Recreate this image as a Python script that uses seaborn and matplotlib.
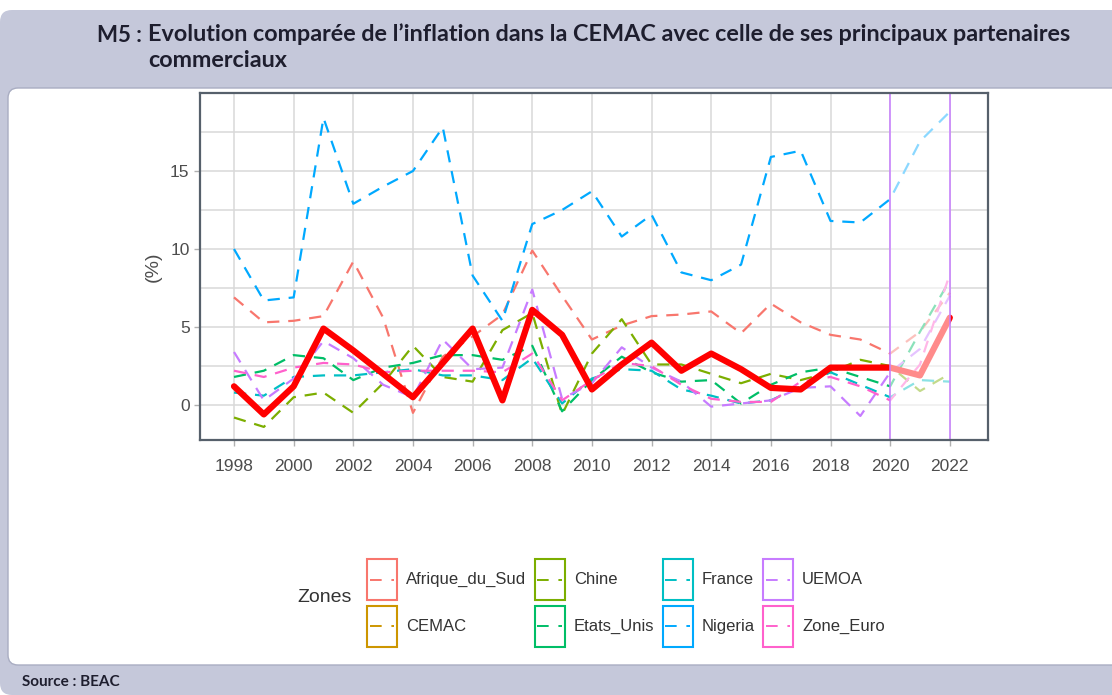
import matplotlib
matplotlib.use('Agg')
import matplotlib.pyplot as plt
import seaborn as sns
import pandas as pd
from matplotlib.patches import FancyBboxPatch, Rectangle
from matplotlib.lines import Line2D
from matplotlib.legend_handler import HandlerBase
from matplotlib.ticker import MultipleLocator

# donnees (inflation en %)
annees = list(range(1998, 2023))
zones = ['Afrique_du_Sud', 'CEMAC', 'Chine', 'Etats_Unis', 'France', 'Nigeria', 'UEMOA', 'Zone_Euro']
couleurs = ['#F8766D', '#CD9600', '#7CAE00', '#00BE67', '#00BFC4', '#00A9FF', '#C77CFF', '#FF61CC']

afrique_du_sud = [6.9, 5.3, 5.4, 5.7, 9.2, 5.6, -0.5, 3.1, 4.4, 5.8, 9.9, 7.0, 4.2, 5.1, 5.7, 5.8, 6.0, 4.6, 6.5, 5.3, 4.5, 4.2, 3.3, 4.7, 7.2]
cemac = [1.2, -0.6, 1.2, 4.9, 3.5, 2.0, 0.5, 2.7, 4.9, 0.3, 6.1, 4.5, 1.0, 2.6, 4.0, 2.2, 3.3, 2.3, 1.1, 1.0, 2.4, 2.4, 2.4, 1.9, 5.6]
chine = [-0.8, -1.4, 0.5, 0.8, -0.5, 1.4, 3.8, 1.8, 1.5, 4.8, 5.9, -0.6, 3.3, 5.5, 2.6, 2.6, 2.0, 1.4, 2.0, 1.6, 2.1, 2.9, 2.5, 0.9, 2.0]
etats_unis = [1.8, 2.2, 3.2, 3.0, 1.6, 2.4, 2.7, 3.2, 3.2, 2.9, 3.8, -0.4, 1.6, 3.1, 2.1, 1.5, 1.6, 0.1, 1.3, 2.1, 2.4, 1.8, 1.2, 4.7, 8.0]
france = [0.8, 0.6, 1.8, 1.9, 1.9, 2.1, 2.3, 1.9, 1.9, 1.6, 3.0, 0.1, 1.7, 2.3, 2.2, 1.0, 0.6, 0.1, 0.3, 1.2, 2.1, 1.3, 0.5, 1.6, 1.5]
nigeria = [10.0, 6.7, 6.9, 18.4, 12.9, 14.0, 15.0, 17.8, 8.3, 5.4, 11.6, 12.5, 13.7, 10.8, 12.2, 8.5, 8.0, 9.0, 15.9, 16.3, 11.8, 11.7, 13.2, 16.9, 18.8]
uemoa = [3.4, 0.3, 1.7, 4.1, 3.0, 1.3, 0.5, 4.2, 2.3, 2.4, 7.4, 0.4, 1.4, 3.7, 2.4, 1.5, -0.1, 0.1, 0.3, 1.1, 1.2, -0.7, 2.1, 3.6, 7.0]
zone_euro = [2.2, 1.8, 2.4, 2.7, 2.6, 2.1, 2.2, 2.2, 2.2, 2.1, 3.3, 0.3, 1.6, 2.7, 2.5, 1.3, 0.4, 0.2, 0.2, 1.5, 1.8, 1.2, 0.3, 2.6, 8.4]

series = [afrique_du_sud, cemac, chine, etats_unis, france, nigeria, uemoa, zone_euro]
df = pd.concat([pd.DataFrame({'annee': annees, 'valeur': v, 'zone': z}) for z, v in zip(zones, series)])

sns.set_theme(style='whitegrid')
plt.rcParams['font.family'] = ['Liberation Sans', 'DejaVu Sans']

fig = plt.figure(figsize=(11.12, 6.95), dpi=100)
fig.patch.set_facecolor('white')

# cadre du document (derriere les axes)
fig.patches.append(FancyBboxPatch((0.0, 0.0), 11.6, 6.85, boxstyle='round,pad=0,rounding_size=0.12',
                                  transform=fig.dpi_scale_trans, facecolor='#C5C8DA', edgecolor='none', zorder=-2))
fig.patches.append(FancyBboxPatch((0.08, 0.30), 11.6, 5.77, boxstyle='round,pad=0,rounding_size=0.1',
                                  transform=fig.dpi_scale_trans, facecolor='white', edgecolor='#A9ADC2', lw=1, zorder=-1))

fig.text(97 / 1112, 1 - 35 / 695, 'M5 :', family='Lato', weight='bold', fontsize=16, color='#1E1E2E', va='center')
fig.text(148 / 1112, 1 - 47.5 / 695,
         "Evolution comparée de l\u2019inflation dans la CEMAC avec celle de ses principaux partenaires\ncommerciaux",
         family='Lato', weight='bold', fontsize=16.8, color='#1E1E2E', va='center', linespacing=1.3)
fig.text(22 / 1112, 1 - 682 / 695, 'Source : BEAC', family='Lato', weight='bold', fontsize=11, color='#1E1E2E', va='center')

ax = fig.add_axes([200 / 1112, 1 - 440 / 695, 788 / 1112, 347 / 695])
sns.lineplot(data=df, x='annee', y='valeur', hue='zone', hue_order=zones, palette=couleurs,
             style='zone', style_order=zones, dashes={z: (5.5, 4) for z in zones},
             linewidth=1.6, legend=False, ax=ax)
sns.lineplot(data=df[df['zone'] == 'CEMAC'], x='annee', y='valeur', color='#FF0000', linewidth=4.5, ax=ax)

# periode de projection
ax.axvspan(2020, 2022, facecolor='white', alpha=0.55, lw=0, zorder=2.2)
ax.axvline(2020, color='#C77CFF', lw=1.1, zorder=2.3)
ax.axvline(2022, color='#C77CFF', lw=1.1, zorder=2.3)

ax.set_xlim(1996.86, 2023.28)
ax.set_ylim(-2.24, 20.0)
ax.set_xticks(range(1998, 2023, 2))
ax.set_yticks([0, 5, 10, 15])
ax.yaxis.set_minor_locator(MultipleLocator(2.5))
ax.grid(which='both', color='#D9D9D9', lw=1.1)
ax.set_facecolor('white')
for s in ax.spines.values():
    s.set_color('#56606B')
    s.set_linewidth(1.6)
ax.tick_params(axis='both', which='major', length=4, width=1, color='#B0B0B0',
               labelcolor='#4D4D4D', labelsize=12.5, bottom=True, left=True)
ax.tick_params(axis='x', which='major', pad=10)
ax.tick_params(axis='y', which='minor', length=0)
ax.set_xlabel('')
ax.set_ylabel('(%)', fontsize=14, color='#4D4D4D', labelpad=6)


class KeyHandler(HandlerBase):
    def create_artists(self, legend, orig_handle, xdescent, ydescent, width, height, fontsize, trans):
        c = orig_handle.get_color()
        r = Rectangle((-xdescent, -ydescent), width, height, facecolor='white', edgecolor=c, lw=1.5, transform=trans)
        ln = Line2D([-xdescent + 2, -xdescent + width - 2], [height / 2 - ydescent] * 2, color=c,
                    ls=(0, (6, 5)), lw=1.4, transform=trans)
        return [r, ln]


handles = [Line2D([], [], color=c) for c in couleurs]
fig.legend(handles, zones, ncol=4, loc='center', bbox_to_anchor=(626 / 1112, 1 - 603 / 695),
           handler_map={Line2D: KeyHandler()}, frameon=False, fontsize=12,
           handlelength=1.8, handleheight=3.4, labelspacing=0.36, handletextpad=0.54,
           columnspacing=0.5, labelcolor='#333333')
fig.text(325 / 1112, 1 - 598 / 695, 'Zones', fontsize=14, color='#333333', ha='center', va='center')

fig.savefig('out.png', dpi=100)
